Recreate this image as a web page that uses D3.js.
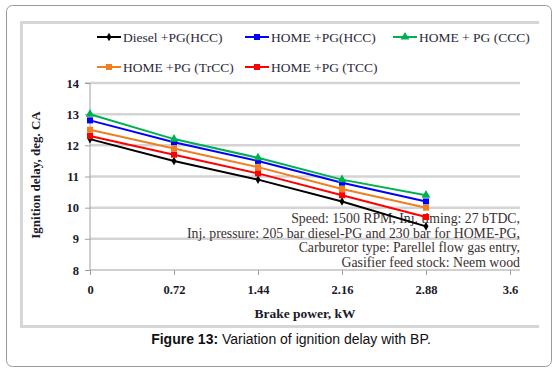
<!DOCTYPE html>
<html>
<head>
<meta charset="utf-8">
<script src="https://cdn.jsdelivr.net/npm/d3@7"></script>
<style>
  body { margin: 0; background: #fff; }
</style>
</head>
<body>
<div id="chart"></div>
<script>
const brakePower = [0, 0.72, 1.44, 2.16, 2.88];
const xTicks = [0, 0.72, 1.44, 2.16, 2.88, 3.6];
const yTicks = [8, 9, 10, 11, 12, 13, 14];

const dieselHCC = [12.2, 11.5, 10.9, 10.2, 9.4];
const homeHCC = [12.8, 12.1, 11.5, 10.8, 10.2];
const homeCCC = [13.0, 12.2, 11.6, 10.9, 10.4];
const homeTrCC = [12.5, 11.9, 11.3, 10.6, 10.0];
const homeTCC = [12.3, 11.7, 11.1, 10.4, 9.7];

const seriesNames = ['Diesel +PG(HCC)', 'HOME +PG(HCC)', 'HOME + PG (CCC)', 'HOME +PG (TrCC)', 'HOME +PG (TCC)'];
const notes = [
    'Speed: 1500 RPM, Inj. timing: 27 bTDC,',
    'Inj. pressure: 205 bar diesel-PG and 230 bar for HOME-PG,',
    'Carburetor type: Parellel  flow gas entry,',
    'Gasifier feed stock: Neem wood'
];

const series = [
    { name: seriesNames[0], values: dieselHCC, color: '#000000', shape: 'diamond' },
    { name: seriesNames[1], values: homeHCC, color: '#0000ff', shape: 'square' },
    { name: seriesNames[2], values: homeCCC, color: '#00b050', shape: 'triangle' },
    { name: seriesNames[3], values: homeTrCC, color: '#f07f20', shape: 'square' },
    { name: seriesNames[4], values: homeTCC, color: '#ff0000', shape: 'square' }
];

const width = 558, height = 375;
const serif = '"Liberation Serif", "Times New Roman", serif';

const svg = d3.select('#chart').append('svg')
    .attr('width', width)
    .attr('height', height);

// outer rounded box
svg.append('rect')
    .attr('x', 6.5).attr('y', 5.5)
    .attr('width', 545).attr('height', 361)
    .attr('rx', 6)
    .attr('fill', '#fff')
    .attr('stroke', '#9a9a9a')
    .attr('stroke-width', 1);

// chart frame (gray edges on top, left, bottom)
svg.append('path')
    .attr('d', 'M539,22.5 H21.5 V326.5 H539')
    .attr('fill', 'none')
    .attr('stroke', '#d6d6d6')
    .attr('stroke-width', 3);

const x = d3.scaleLinear().domain([0, 3.6]).range([90, 510]);
const y = d3.scaleLinear().domain([8, 14]).range([270, 83]);
const plotRight = 520;

// gridlines
svg.append('g')
    .selectAll('line')
    .data(yTicks.filter(d => d > 8))
    .join('line')
    .attr('x1', x(0)).attr('x2', plotRight)
    .attr('y1', d => y(d)).attr('y2', d => y(d))
    .attr('stroke', '#d4d4d4')
    .attr('stroke-width', 2.5);

// y axis
svg.append('g')
    .attr('transform', `translate(${x(0)},0)`)
    .call(d3.axisLeft(y).tickValues(yTicks).tickSize(5).tickPadding(6).tickFormat(d3.format('d')))
    .call(g => g.select('.domain').attr('stroke', '#a0a0a0').attr('d', `M-5,${y(14)}H0V${y(8)}`))
    .call(g => g.selectAll('.tick line').attr('stroke', '#a0a0a0'))
    .call(g => g.selectAll('.tick text')
        .style('font-family', serif).style('font-size', '12.5px').style('font-weight', 'bold')
        .attr('fill', '#1a1a2a'));

// x axis
svg.append('g')
    .attr('transform', `translate(0,${y(8)})`)
    .call(d3.axisBottom(x).tickValues(xTicks).tickSize(5).tickPadding(10).tickFormat(d => d))
    .call(g => g.select('.domain').attr('stroke', '#a0a0a0').attr('d', `M${x(0)},0H${plotRight}`))
    .call(g => g.selectAll('.tick line').attr('stroke', '#a0a0a0'))
    .call(g => g.selectAll('.tick text')
        .style('font-family', serif).style('font-size', '12.5px').style('font-weight', 'bold')
        .attr('fill', '#1a1a2a'));

// axis titles
svg.append('text')
    .attr('transform', 'rotate(-90)')
    .attr('x', -175).attr('y', 40)
    .attr('text-anchor', 'middle')
    .style('font-family', serif).style('font-size', '13px').style('font-weight', 'bold')
    .attr('fill', '#1a1a2a')
    .text('Ignition delay, deg. CA');

svg.append('text')
    .attr('x', 305).attr('y', 318)
    .attr('text-anchor', 'middle')
    .style('font-family', serif).style('font-size', '13.5px').style('font-weight', 'bold')
    .attr('fill', '#1a1a2a')
    .text('Brake power, kW');

// operating condition notes
svg.append('g')
    .selectAll('text')
    .data(notes)
    .join('text')
    .attr('x', 520)
    .attr('y', (d, i) => 223 + i * 14.7)
    .attr('text-anchor', 'end')
    .style('font-family', serif).style('font-size', '13.8px')
    .attr('fill', '#3b3030')
    .text(d => d);

// series lines + markers
const line = d3.line()
    .x((d, i) => x(brakePower[i]))
    .y(d => y(d));

const symbolType = { diamond: d3.symbolDiamond, square: d3.symbolSquare, triangle: d3.symbolTriangle };
const symbolSize = { diamond: 22, square: 36, triangle: 34 };

series.forEach(s => {
    svg.append('path')
        .datum(s.values)
        .attr('fill', 'none')
        .attr('stroke', s.color)
        .attr('stroke-width', 2)
        .attr('d', line);

    svg.append('g')
        .selectAll('path')
        .data(s.values)
        .join('path')
        .attr('transform', (d, i) => `translate(${x(brakePower[i])},${y(d)})`)
        .attr('d', d3.symbol().type(symbolType[s.shape]).size(symbolSize[s.shape]))
        .attr('fill', s.color);
});

// legend
const legendPos = [[97, 37], [245, 37], [393, 37], [97, 67], [245, 67]];
const legend = svg.append('g')
    .selectAll('g')
    .data(series)
    .join('g')
    .attr('transform', (d, i) => `translate(${legendPos[i][0]},${legendPos[i][1]})`);

legend.append('line')
    .attr('x1', 0).attr('x2', 24)
    .attr('stroke', d => d.color)
    .attr('stroke-width', 2);

legend.append('path')
    .attr('transform', 'translate(12,0)')
    .attr('d', d => d3.symbol().type(symbolType[d.shape]).size(symbolSize[d.shape])())
    .attr('fill', d => d.color);

legend.append('text')
    .attr('x', 26)
    .attr('dy', '0.35em')
    .style('font-family', serif).style('font-size', '13.5px')
    .attr('fill', '#2a2a3a')
    .text(d => d.name);

// caption
const caption = svg.append('text')
    .attr('x', 291).attr('y', 344)
    .attr('text-anchor', 'middle')
    .style('font-family', '"Liberation Sans", Arial, sans-serif').style('font-size', '14px')
    .attr('fill', '#111');
caption.append('tspan').style('font-weight', 'bold').text('Figure 13:');
caption.append('tspan').text(' Variation of ignition delay with BP.');
</script>
</body>
</html>
